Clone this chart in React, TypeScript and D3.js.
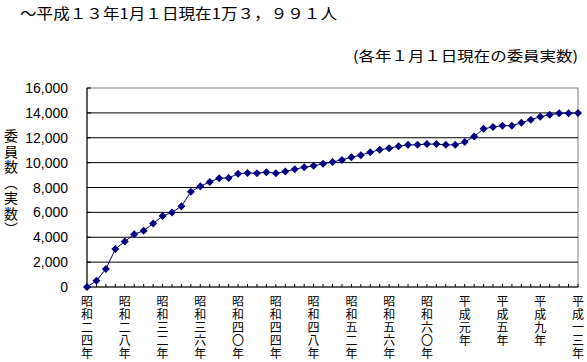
import React from "react";
import * as d3 from "d3";

const WIDTH = 587;
const HEIGHT = 362;
const PLOT = { left: 87, top: 88, right: 578, bottom: 287 };

const TITLE = "～平成１３年1月１日現在1万３，９９１人";
const SUBTITLE = "(各年１月１日現在の委員実数)";
const Y_LABEL = "委員数（実数）";

const years = [
  1949, 1950, 1951, 1952, 1953, 1954, 1955, 1956, 1957, 1958, 1959, 1960,
  1961, 1962, 1963, 1964, 1965, 1966, 1967, 1968, 1969, 1970, 1971, 1972,
  1973, 1974, 1975, 1976, 1977, 1978, 1979, 1980, 1981, 1982, 1983, 1984,
  1985, 1986, 1987, 1988, 1989, 1990, 1991, 1992, 1993, 1994, 1995, 1996,
  1997, 1998, 1999, 2000, 2001,
];

const members = [
  0, 500, 1450, 3050, 3650, 4250, 4520, 5100, 5700, 6000, 6500, 7650,
  8100, 8450, 8750, 8770, 9100, 9170, 9150, 9230, 9150, 9280, 9470, 9630,
  9740, 9900, 10060, 10220, 10440, 10600, 10840, 11030, 11160, 11320, 11430, 11430,
  11490, 11490, 11430, 11430, 11650, 12100, 12720, 12860, 12970, 12970, 13210, 13450,
  13690, 13850, 13960, 13960, 13991,
];

// tick label for every 4th year
const tickYears = [1949, 1953, 1957, 1961, 1965, 1969, 1973, 1977, 1981, 1985, 1989, 1993, 1997, 2001];
const tickLabels = [
  "昭和二四年", "昭和二八年", "昭和三二年", "昭和三六年", "昭和四〇年", "昭和四四年", "昭和四八年",
  "昭和五二年", "昭和五六年", "昭和六〇年", "平成元年", "平成五年", "平成九年", "平成一三年",
];

const yTicks = [0, 2000, 4000, 6000, 8000, 10000, 12000, 14000, 16000];

const JP = "'Noto Sans CJK JP', sans-serif";
const NAVY = "#000080";

export default function App() {
  const x = d3
    .scalePoint<number>()
    .domain(years)
    .range([PLOT.left, PLOT.right]);
  const y = d3.scaleLinear().domain([0, 16000]).range([PLOT.bottom, PLOT.top]);

  const line = d3
    .line<number>()
    .x((_, i) => x(years[i]) as number)
    .y((d) => y(d));

  const fmt = d3.format(",");

  return (
    <svg
      width={WIDTH}
      height={HEIGHT}
      style={{ position: "absolute", left: 0, top: 0, background: "#fff" }}
    >
      <rect width={WIDTH} height={HEIGHT} fill="#fff" />

      {/* titles */}
      <text x={20} y={19} fontFamily={JP} fontSize={15} textLength={317} lengthAdjust="spacingAndGlyphs">
        {TITLE}
      </text>
      <text x={353} y={61} fontFamily={JP} fontSize={14} textLength={225} lengthAdjust="spacingAndGlyphs">
        {SUBTITLE}
      </text>

      {/* plot frame */}
      <rect
        x={PLOT.left}
        y={PLOT.top}
        width={PLOT.right - PLOT.left}
        height={PLOT.bottom - PLOT.top}
        fill="none"
        stroke="#808080"
      />

      {/* gridlines + y axis */}
      {yTicks.map((t) => (
        <g key={t}>
          {t > 0 && t < 16000 && (
            <line x1={PLOT.left} x2={PLOT.right} y1={y(t)} y2={y(t)} stroke="#000" />
          )}
          <line x1={PLOT.left} x2={PLOT.left + 4} y1={y(t)} y2={y(t)} stroke="#000" />
          <text
            x={68}
            y={y(t)}
            textAnchor="end"
            dominantBaseline="central"
            fontFamily="'Liberation Sans', Arial, sans-serif"
            fontSize={14}
          >
            {fmt(t)}
          </text>
        </g>
      ))}
      <line x1={PLOT.left} x2={PLOT.left} y1={PLOT.top} y2={PLOT.bottom} stroke="#000" />
      <line x1={PLOT.left} x2={PLOT.right} y1={PLOT.bottom} y2={PLOT.bottom} stroke="#000" />

      {/* x ticks */}
      {years.map((yr) => (
        <line
          key={yr}
          x1={x(yr)}
          x2={x(yr)}
          y1={PLOT.bottom}
          y2={PLOT.bottom - 3}
          stroke="#000"
        />
      ))}

      {/* x labels, vertical writing */}
      {tickYears.map((yr, i) => (
        <text
          key={yr}
          x={x(yr)}
          y={295}
          fontFamily={JP}
          fontSize={12}
          letterSpacing={1}
          style={{ writingMode: "vertical-rl" }}
        >
          {tickLabels[i]}
        </text>
      ))}

      {/* y axis title */}
      <text
        x={11}
        y={129}
        fontFamily={JP}
        fontSize={14}
        letterSpacing={1.5}
        style={{ writingMode: "vertical-rl" }}
      >
        {Y_LABEL}
      </text>

      {/* series */}
      <path d={line(members) ?? ""} fill="none" stroke={NAVY} strokeWidth={1} />
      {members.map((v, i) => {
        const cx = x(years[i]) as number;
        const cy = y(v);
        return (
          <path
            key={i}
            d={`M${cx},${cy - 4}L${cx + 4},${cy}L${cx},${cy + 4}L${cx - 4},${cy}Z`}
            fill={NAVY}
          />
        );
      })}
    </svg>
  );
}
